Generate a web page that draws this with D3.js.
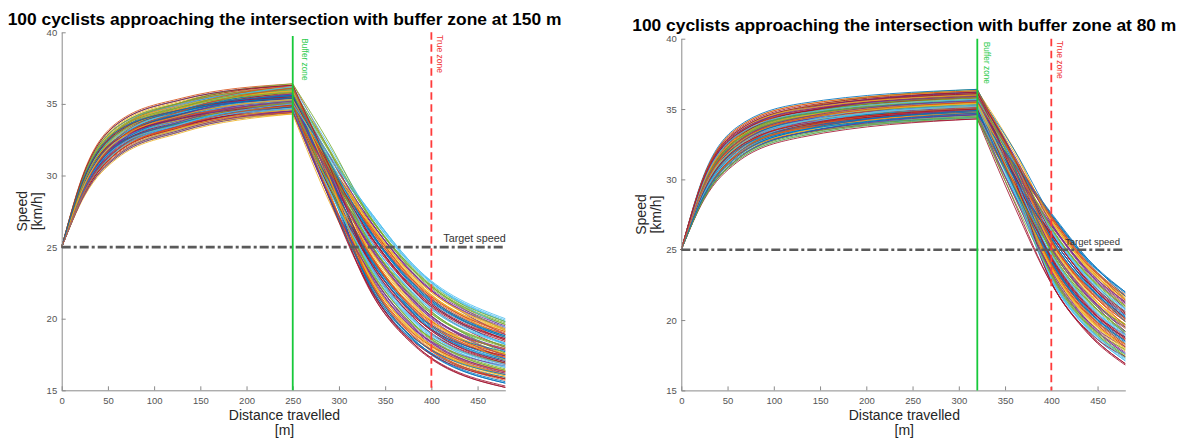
<!DOCTYPE html>
<html>
<head>
<meta charset="utf-8">
<script src="https://cdn.jsdelivr.net/npm/d3@7"></script>
<style>
  html, body { margin: 0; padding: 0; background: #fff; }
  svg { display: block; font-family: "Liberation Sans", Arial, sans-serif; }
</style>
</head>
<body>
<svg id="chart" width="1179" height="441"></svg>
<script>
//Datos comunes
let startSpeed = 25;
let targetSpeed = 25;
let trueZone = 400;
let xTicks = [0, 50, 100, 150, 200, 250, 300, 350, 400, 450];
let yTicks = [15, 20, 25, 30, 35, 40];

//Panel izquierdo: zona buffer a 150 m (x = 250)
let titleA = '100 cyclists approaching the intersection with buffer zone at 150 m';
let bufferA = 250;
let riseDistA = [25, 60, 130, 250];
let fallDistA = [290, 330, 380, 480];
//[v25, v60, v130, v250, v290, v330, v380, v480]
let speedsA = [
    [29.5,32.6,34.3,35.5,29.9,24.5,20.4,17.0],[28.9,31.6,33.5,34.9,30.2,26.6,22.5,18.9],[30.2,33.4,35.1,36.1,29.9,23.2,19.0,15.9],
    [29.4,32.3,34.1,35.2,29.9,25.3,21.2,17.2],[28.7,31.4,33.2,34.5,30.6,27.3,23.3,19.6],[30.1,33.3,34.9,35.9,30.0,24.0,19.8,16.6],
    [29.5,32.5,34.3,35.4,30.5,26.0,22.0,18.4],[30.3,33.6,35.3,36.3,29.8,22.7,18.5,15.9],[28.8,31.5,33.3,34.7,29.2,24.7,20.6,17.3],
    [29.3,32.2,33.9,35.0,30.4,26.8,22.8,19.1],[30.0,33.1,34.7,35.7,29.6,23.4,19.3,16.1],[28.7,31.3,33.1,34.4,29.2,25.5,21.4,17.5],
    [29.6,32.6,34.4,35.6,31.4,27.6,23.6,19.8],[30.2,33.4,35.0,36.0,30.2,24.2,20.1,16.8],[28.9,31.8,33.7,35.1,30.3,26.3,22.3,18.7],
    [29.2,32.1,33.7,34.8,28.4,22.9,18.7,16.2],[30.3,33.5,35.2,36.2,30.8,25.0,20.9,17.5],[29.0,31.9,33.9,35.3,30.9,27.1,23.1,19.3],
    [29.6,32.8,34.6,35.8,29.8,23.7,19.6,16.4],[28.7,31.4,33.3,34.6,29.6,25.8,21.7,17.7],[29.9,32.9,34.5,35.4,28.8,22.4,18.2,15.2],
    [29.3,32.2,33.9,35.0,29.4,24.5,20.4,17.1],[30.4,33.7,35.4,36.4,31.7,26.6,22.6,18.9],[28.6,31.2,33.0,34.3,28.1,23.2,19.1,16.4],
    [29.1,32.1,34.1,35.6,30.3,25.3,21.2,17.8],[29.7,32.8,34.7,35.9,31.6,27.4,23.4,19.6],[29.7,32.5,34.0,34.9,29.0,24.0,19.9,16.6],
    [29.4,32.3,34.1,35.2,30.3,26.1,22.0,18.0],[29.8,33.0,34.9,36.1,29.6,22.7,18.5,15.5],[29.1,31.9,33.5,34.6,29.1,24.8,20.7,17.3],
    [30.1,33.2,34.8,35.8,31.3,26.9,22.8,19.2],[29.1,31.8,33.5,34.5,28.4,23.5,19.3,16.7],[29.8,32.8,34.4,35.3,30.2,25.6,21.5,18.0],
    [29.8,33.1,35.0,36.2,32.0,27.7,23.7,19.8],[28.8,31.6,33.4,34.8,29.1,24.3,20.1,16.9],[29.1,32.0,34.0,35.5,30.7,26.4,22.3,18.2],
    [29.7,32.6,34.1,35.0,28.7,23.0,18.8,15.7],[29.7,32.9,34.8,36.0,30.6,25.1,21.0,17.5],[28.7,31.3,33.1,34.4,30.4,27.1,23.1,19.4],
    [29.6,32.7,34.5,35.7,29.7,23.8,19.6,16.9],[29.7,32.7,34.2,35.1,30.1,25.8,21.8,18.2],[29.9,33.1,35.1,36.3,29.7,22.5,18.3,15.2],
    [29.2,32.0,33.6,34.7,29.1,24.6,20.5,17.1],[30.0,33.1,34.6,35.6,31.0,26.7,22.6,18.5],[29.3,32.1,33.8,34.9,28.7,23.3,19.1,16.0],
    [29.1,32.0,33.9,35.4,30.2,25.4,21.3,17.8],[29.3,32.4,34.5,36.0,31.7,27.4,23.4,19.7],[29.8,32.8,34.3,35.2,29.4,24.1,19.9,17.2],
    [29.5,32.2,33.6,34.5,29.6,26.1,22.1,18.5],[29.3,32.3,34.4,35.9,29.5,22.8,18.6,15.5],[29.4,32.4,34.2,35.3,29.8,24.8,20.7,17.4],
    [29.6,32.4,33.9,34.8,30.6,26.9,22.9,18.7],[29.3,32.4,34.5,36.1,30.0,23.5,19.4,16.2],[29.9,33.0,34.6,35.5,30.4,25.6,21.5,18.1],
    [29.5,32.3,33.7,34.6,30.9,27.7,23.7,19.9],[29.2,32.2,34.3,35.8,30.1,24.3,20.2,17.4],[28.9,31.7,33.6,35.0,30.2,26.4,22.4,18.7],
    [29.8,33.1,35.0,36.2,29.9,23.0,18.8,15.8],[29.0,31.7,33.3,34.3,28.9,25.1,21.0,17.6],[29.2,32.2,34.2,35.7,31.3,27.2,23.2,18.9],
    [29.0,31.8,33.8,35.2,29.2,23.8,19.7,16.4],[30.2,33.4,35.0,36.0,31.0,25.9,21.8,18.3],[29.3,32.1,33.8,34.9,28.3,22.5,18.3,15.3],
    [29.6,32.6,34.4,35.6,30.0,24.6,20.5,17.7],[29.4,32.1,33.6,34.4,30.2,26.7,22.7,19.0],[30.1,33.3,34.9,35.9,29.7,23.3,19.2,16.0],
    [29.3,32.3,34.0,35.1,29.9,25.4,21.3,17.9],[29.9,33.2,35.1,36.4,32.2,27.5,23.5,19.2],[29.6,32.4,33.8,34.7,28.9,24.1,20.0,16.7],
    [29.5,32.5,34.3,35.4,30.6,26.2,22.1,18.6],[29.1,32.1,34.1,35.6,29.2,22.8,18.6,15.6],[29.7,32.6,34.1,35.0,29.6,24.9,20.8,17.9],
    [30.1,33.2,34.8,35.8,31.3,27.0,23.0,19.2],[29.1,31.8,33.5,34.5,28.5,23.6,19.4,16.3],[30.2,33.4,35.1,36.1,31.0,25.7,21.6,18.1],
    [29.8,32.8,34.4,35.3,31.4,27.8,23.8,19.4],[28.8,31.6,33.4,34.8,29.1,24.4,20.3,16.9],[29.5,32.6,34.3,35.5,30.8,26.5,22.4,18.8],
    [29.4,32.6,34.7,36.3,30.0,23.1,18.9,15.8],[28.7,31.4,33.3,34.6,29.3,25.2,21.1,17.1],[29.2,32.2,34.2,35.7,31.3,27.2,23.2,19.5],
    [28.9,31.8,33.7,35.1,29.2,23.9,19.7,16.5],[29.4,32.5,34.6,36.2,31.2,25.9,21.9,18.3],[29.7,32.5,34.0,34.9,28.4,22.6,18.4,15.8],
    [29.9,32.9,34.5,35.4,29.9,24.7,20.6,17.2],[29.0,31.8,33.4,34.4,30.2,26.8,22.7,19.1],[29.7,32.8,34.7,35.9,29.8,23.4,19.2,16.1],
    [29.0,31.8,33.8,35.2,30.0,25.5,21.4,17.4],[29.7,32.9,34.8,36.0,31.8,27.5,23.5,19.8],[29.2,32.0,33.6,34.7,28.9,24.2,20.0,16.8],
    [29.9,33.0,34.6,35.5,30.7,26.2,22.2,18.6],[29.2,32.1,33.7,34.8,28.4,22.9,18.7,16.1],[29.3,32.4,34.5,36.1,30.7,24.9,20.8,17.5],
    [29.4,32.4,34.2,35.3,30.8,27.0,23.0,19.3],[28.7,31.4,33.2,34.5,28.5,23.6,19.5,16.3],[30.1,33.2,34.8,35.8,30.7,25.7,21.7,17.6],
    [28.9,31.7,33.6,35.0,31.2,27.8,23.8,20.0],[30.3,33.6,35.3,36.3,30.6,24.4,20.3,17.0],[30.0,33.1,34.6,35.6,30.9,26.5,22.5,18.8],
    [28.9,31.6,33.5,34.9,28.6,23.1,19.0,16.3]
];

//Panel derecho: zona buffer a 80 m (x = 320)
let titleB = '100 cyclists approaching the intersection with buffer zone at 80 m';
let bufferB = 320;
let riseDistB = [25, 60, 130, 320];
let fallDistB = [360, 400, 440, 480];
//[v25, v60, v130, v320, v360, v400, v440, v480]
let speedsB = [
    [28.9,31.6,33.5,34.9,30.1,25.7,22.3,20.1],[30.0,33.1,34.6,35.6,30.0,23.8,20.3,18.1],[30.3,33.6,35.3,36.3,32.1,26.9,23.6,21.4],
    [28.9,31.7,33.6,35.0,29.9,25.0,21.6,19.0],[30.1,33.2,34.8,35.8,29.8,23.1,19.5,17.3],[28.7,31.4,33.2,34.5,30.0,26.2,22.8,20.6],
    [29.4,32.4,34.2,35.3,29.9,24.3,20.8,18.6],[29.3,32.4,34.5,36.1,32.1,27.4,24.1,21.5],[29.2,32.1,33.7,34.8,29.9,25.5,22.1,19.9],
    [29.9,33.0,34.6,35.5,29.7,23.6,20.0,17.8],[29.2,32.0,33.6,34.7,30.4,26.7,23.3,21.1],[29.7,32.9,34.8,36.0,30.8,24.8,21.3,19.5],
    [29.0,31.8,33.8,35.2,29.1,22.8,19.3,17.1],[29.7,32.8,34.7,35.9,31.2,26.0,22.6,20.4],[29.0,31.8,33.4,34.4,28.9,24.0,20.5,18.3],
    [29.9,32.9,34.5,35.4,31.3,27.2,23.8,21.2],[29.7,32.5,34.0,34.9,29.9,25.2,21.8,19.6],[29.4,32.5,34.6,36.2,30.3,23.3,19.8,17.6],
    [28.9,31.8,33.7,35.1,30.7,26.4,23.1,20.9],[29.2,32.2,34.2,35.7,30.4,24.5,21.0,19.2],[28.7,31.4,33.3,34.6,28.4,22.6,19.0,16.8],
    [29.4,32.6,34.7,36.3,31.6,25.8,22.4,20.2],[29.5,32.6,34.3,35.5,29.9,23.8,20.3,18.1],[28.8,31.6,33.4,34.8,30.6,27.0,23.6,21.0],
    [29.8,32.8,34.4,35.3,30.2,25.0,21.6,19.4],[30.2,33.4,35.1,36.1,30.1,23.1,19.6,17.4],[29.1,31.8,33.5,34.5,30.0,26.2,22.9,20.7],
    [30.1,33.2,34.8,35.8,30.4,24.3,20.8,19.0],[29.7,32.6,34.1,35.0,31.0,27.4,24.2,21.9],[29.1,32.1,34.1,35.6,30.7,25.5,22.1,19.9],
    [29.5,32.5,34.3,35.4,29.7,23.6,20.1,17.9],[29.6,32.4,33.8,34.7,30.4,26.7,23.4,20.8],[29.9,33.2,35.1,36.4,31.2,24.8,21.3,19.1],
    [29.3,32.3,34.0,35.1,29.0,22.9,19.3,17.1],[30.1,33.3,34.9,35.9,31.3,26.0,22.6,20.4],[29.4,32.1,33.6,34.4,28.9,24.1,20.6,18.8],
    [29.6,32.6,34.4,35.6,31.5,27.2,23.9,21.7],[29.3,32.1,33.8,34.9,29.9,25.3,21.9,19.7],[30.2,33.4,35.0,36.0,30.2,23.4,19.8,17.6],
    [29.0,31.8,33.8,35.2,30.8,26.5,23.1,20.5],[29.2,32.2,34.2,35.7,30.4,24.6,21.1,18.9],[29.0,31.7,33.3,34.3,28.1,22.6,19.1,16.9],
    [29.8,33.1,35.0,36.2,31.5,25.8,22.4,20.2],[28.9,31.7,33.6,35.0,29.4,23.9,20.4,18.6],[29.2,32.2,34.3,35.8,31.6,27.0,23.7,21.5],
    [29.5,32.3,33.7,34.6,29.5,25.1,21.7,19.5],[29.9,33.0,34.6,35.5,29.6,23.2,19.6,17.4],[29.3,32.4,34.5,36.1,31.6,26.3,22.9,20.3],
    [29.6,32.4,33.9,34.8,29.4,24.4,20.9,18.7],[29.4,32.4,34.2,35.3,31.3,27.5,24.2,22.0],[29.3,32.3,34.4,35.9,31.1,25.6,22.2,20.0],
    [29.5,32.2,33.6,34.5,28.8,23.7,20.1,18.3],[29.8,32.8,34.3,35.2,30.9,26.8,23.4,21.2],[29.3,32.4,34.5,36.0,30.8,24.9,21.4,19.2],
    [29.1,32.0,33.9,35.4,29.4,22.9,19.4,17.2],[29.3,32.1,33.8,34.9,30.3,26.1,22.7,20.1],[30.0,33.1,34.6,35.6,30.1,24.1,20.6,18.4],
    [29.2,32.0,33.6,34.7,30.9,27.3,23.9,21.7],[29.9,33.1,35.1,36.3,31.4,25.3,21.9,19.7],[29.7,32.7,34.2,35.1,29.3,23.4,19.9,18.1],
    [29.6,32.7,34.5,35.7,31.3,26.5,23.2,21.0],[28.7,31.3,33.1,34.4,29.1,24.6,21.1,18.9],[29.7,32.9,34.8,36.0,29.8,22.7,19.1,16.9],
    [29.7,32.6,34.1,35.0,30.3,25.9,22.5,19.9],[29.1,32.0,34.0,35.5,29.9,23.9,20.4,18.2],[28.8,31.6,33.4,34.8,30.6,27.1,23.7,21.5],
    [29.8,33.1,35.0,36.2,31.2,25.1,21.7,19.5],[29.8,32.8,34.4,35.3,29.4,23.2,19.7,17.9],[29.1,31.8,33.5,34.5,30.0,26.3,23.0,20.8],
    [30.1,33.2,34.8,35.8,30.4,24.4,20.9,18.7],[29.1,31.9,33.5,34.6,31.0,27.5,24.3,22.0],[29.8,33.0,34.9,36.1,31.3,25.6,22.2,19.6],
    [29.4,32.3,34.1,35.2,29.5,23.7,20.2,18.0],[29.7,32.5,34.0,34.9,30.6,26.8,23.5,21.3],[29.7,32.8,34.7,35.9,30.8,24.9,21.4,19.2],
    [29.1,32.1,34.1,35.6,29.6,23.0,19.4,17.6],[28.6,31.2,33.0,34.3,29.7,26.1,22.7,20.5],[30.4,33.7,35.4,36.4,30.9,24.2,20.7,18.5],
    [29.3,32.2,33.9,35.0,31.0,27.3,24.0,21.8],[29.9,32.9,34.5,35.4,30.5,25.4,22.0,19.4],[28.7,31.4,33.3,34.6,28.8,23.5,19.9,17.7],
    [29.6,32.8,34.6,35.8,31.4,26.6,23.2,21.0],[29.0,31.9,33.9,35.3,30.0,24.7,21.2,19.0],[30.3,33.5,35.2,36.2,30.1,22.7,19.2,17.4],
    [29.2,32.1,33.7,34.8,30.1,25.9,22.5,20.3],[28.9,31.8,33.7,35.1,29.5,24.0,20.5,18.3],[30.2,33.4,35.0,36.0,31.9,27.1,23.8,21.6],
    [29.6,32.6,34.4,35.6,30.6,25.2,21.8,19.2],[28.7,31.3,33.1,34.4,28.5,23.3,19.7,17.5],[30.0,33.1,34.7,35.7,31.2,26.4,23.0,20.8],
    [29.3,32.2,33.9,35.0,29.7,24.5,21.0,18.8],[28.8,31.5,33.3,34.7,31.1,27.6,24.3,21.7],[30.3,33.6,35.3,36.3,31.5,25.7,22.3,20.1],
    [29.5,32.5,34.3,35.4,29.7,23.8,20.2,18.0],[30.1,33.3,34.9,35.9,31.7,26.9,23.5,21.3],[28.7,31.4,33.2,34.5,29.4,25.0,21.5,19.7],
    [29.4,32.3,34.1,35.2,29.2,23.0,19.5,17.3],[30.2,33.4,35.1,36.1,31.5,26.2,22.8,20.6],[28.9,31.6,33.5,34.9,29.4,24.2,20.7,18.5],
    [29.5,32.6,34.3,35.5,31.5,27.4,24.0,21.4]
];

//Colores por defecto de MATLAB
let palette = ['#0072BD', '#D95319', '#EDB120', '#7E2F8E', '#77AC30', '#4DBEEE', '#A2142F'];

let svg = d3.select('#chart');

drawPanel(svg, {
    title: titleA, rows: speedsA, riseDist: riseDistA, fallDist: fallDistA, buffer: bufferA,
    left: 61.7, right: 505.3, top: 32.3, bottom: 390.3, titleY: 24.9, bufferTop: 39.75,
    bufferLabel: {dx: 9.6, y: 38.3}, trueLabel: {dx: 5.8, y: 35},
    targetLabel: {x: 443.3, dy: -5.4, size: 10.8}
});

drawPanel(svg, {
    title: titleB, rows: speedsB, riseDist: riseDistB, fallDist: fallDistB, buffer: bufferB,
    left: 681.3, right: 1125.3, top: 38.7, bottom: 390.4, titleY: 30.9, bufferTop: 40,
    bufferLabel: {dx: 6.3, y: 41.7}, trueLabel: {dx: 5.4, y: 40.7},
    targetLabel: {x: 1065, dy: -5, size: 9.5}
});

/* Dibujo de un panel */
function drawPanel(svg, cfg) {
    let x = d3.scaleLinear().domain([0, 480]).range([cfg.left, cfg.right]);
    let y = d3.scaleLinear().domain([15, 40]).range([cfg.bottom, cfg.top]);
    let chart = svg.append('g');

    let line = d3.line()
        .x(function(d) { return x(d[0]); })
        .y(function(d) { return y(d[1]); })
        .curve(d3.curveMonotoneX);

    //Curvas de los ciclistas
    chart.selectAll('.cyclist')
        .data(cfg.rows)
        .enter()
        .append('path')
        .attr('class', 'cyclist')
        .attr('fill', 'none')
        .attr('stroke', function(d, i) { return palette[i % palette.length]; })
        .attr('stroke-width', 0.85)
        .attr('d', function(d) {
            let rise = [[0, startSpeed]].concat(cfg.riseDist.map(function(dist, i) { return [dist, d[i]]; }));
            let fall = [[cfg.buffer, d[3]]].concat(cfg.fallDist.map(function(dist, i) { return [dist, d[4 + i]]; }));
            return line(rise) + line(fall);
        });

    //Ejes
    let yAxis = d3.axisLeft(y).tickValues(yTicks).tickSize(-4).tickSizeOuter(0).tickPadding(4.5);
    let xAxis = d3.axisBottom(x).tickValues(xTicks).tickSize(-4).tickSizeOuter(0).tickPadding(6.5);

    chart.append('g')
        .attr('transform', 'translate(' + cfg.left + ',0)')
        .call(yAxis)
        .call(styleAxis);

    chart.append('g')
        .attr('transform', 'translate(0,' + cfg.bottom + ')')
        .call(xAxis)
        .call(styleAxis);

    //Velocidad objetivo
    chart.append('line')
        .attr('x1', x(0)).attr('x2', x(480))
        .attr('y1', y(targetSpeed)).attr('y2', y(targetSpeed))
        .attr('stroke', '#5a5a5a')
        .attr('stroke-width', 2.6)
        .attr('stroke-dasharray', '9,3,3,3');

    //Zona buffer
    chart.append('line')
        .attr('x1', x(cfg.buffer)).attr('x2', x(cfg.buffer))
        .attr('y1', y(cfg.bufferTop)).attr('y2', y(15))
        .attr('stroke', '#17c93a')
        .attr('stroke-width', 1.8);

    //Zona real
    chart.append('line')
        .attr('x1', x(trueZone)).attr('x2', x(trueZone))
        .attr('y1', y(40)).attr('y2', y(15))
        .attr('stroke', '#ff3b3b')
        .attr('stroke-width', 1.8)
        .attr('stroke-dasharray', '7.5,4.5');

    //Textos
    chart.append('text')
        .attr('transform', 'translate(' + (x(cfg.buffer) + cfg.bufferLabel.dx) + ',' + cfg.bufferLabel.y + ') rotate(90)')
        .attr('fill', '#2fcc50')
        .style('font-size', '8.3px')
        .text('Buffer zone');

    chart.append('text')
        .attr('transform', 'translate(' + (x(trueZone) + cfg.trueLabel.dx) + ',' + cfg.trueLabel.y + ') rotate(90)')
        .attr('fill', '#f03838')
        .style('font-size', '8.5px')
        .text('True zone');

    chart.append('text')
        .attr('x', cfg.targetLabel.x)
        .attr('y', y(targetSpeed) + cfg.targetLabel.dy)
        .attr('fill', '#333')
        .style('font-size', cfg.targetLabel.size + 'px')
        .text('Target speed');

    let midX = (cfg.left + cfg.right) / 2;
    let midY = (cfg.top + cfg.bottom) / 2;

    chart.append('text')
        .attr('x', midX + 1)
        .attr('y', cfg.titleY)
        .attr('text-anchor', 'middle')
        .style('font-size', '17.4px')
        .style('font-weight', 'bold')
        .attr('fill', '#000')
        .text(cfg.title);

    chart.append('text')
        .attr('x', midX + 1)
        .attr('y', 419.5)
        .attr('text-anchor', 'middle')
        .style('font-size', '14px')
        .attr('fill', '#262626')
        .text('Distance travelled');

    chart.append('text')
        .attr('x', midX + 1)
        .attr('y', 435)
        .attr('text-anchor', 'middle')
        .style('font-size', '14px')
        .attr('fill', '#262626')
        .text('[m]');

    let yLabel = chart.append('text')
        .attr('transform', 'translate(' + (cfg.left - 35) + ',' + midY + ') rotate(-90)')
        .attr('text-anchor', 'middle')
        .style('font-size', '14px')
        .attr('fill', '#262626');
    yLabel.append('tspan').attr('x', 0).attr('dy', 0).text('Speed');
    yLabel.append('tspan').attr('x', 0).attr('dy', 15).text('[km/h]');
}

function styleAxis(g) {
    g.attr('font-family', null).attr('font-size', null);
    g.select('.domain').attr('stroke', '#8a8a8a');
    g.selectAll('.tick line').attr('stroke', '#8a8a8a');
    g.selectAll('.tick text')
        .attr('fill', '#555')
        .style('font-size', '9.5px');
}
</script>
</body>
</html>
